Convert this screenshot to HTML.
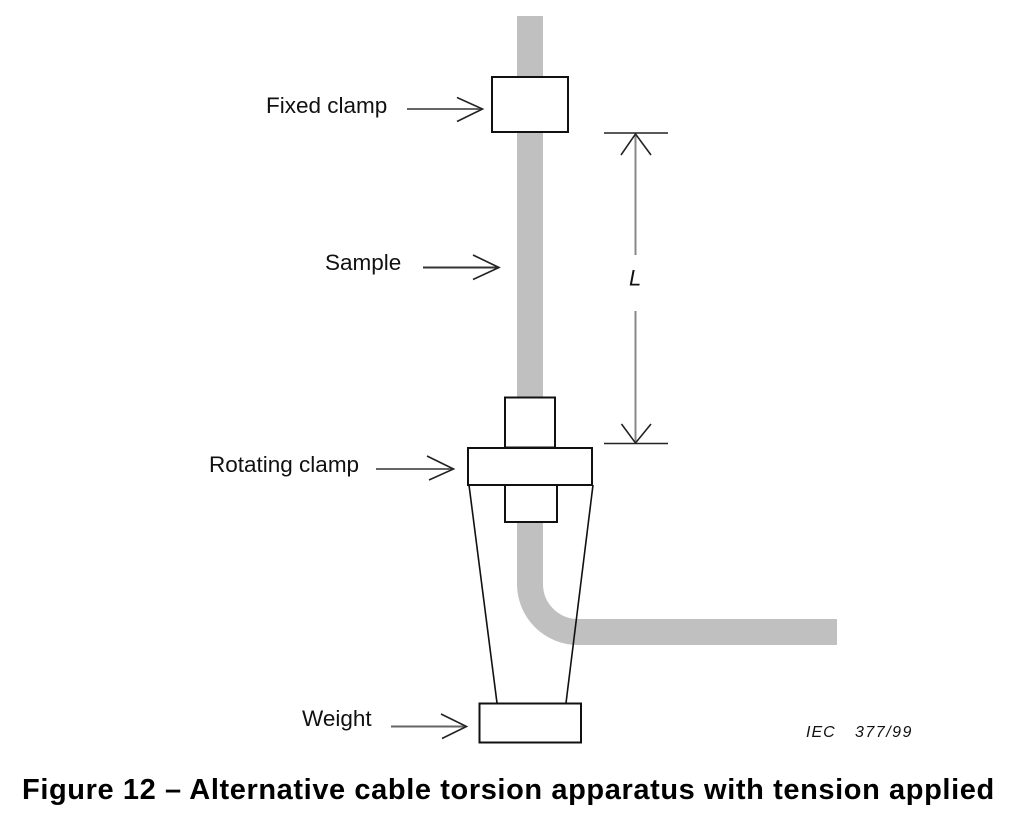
<!DOCTYPE html>
<html>
<head>
<meta charset="utf-8">
<style>
html,body{margin:0;padding:0;background:#fff;}
body{width:1024px;height:828px;overflow:hidden;}
svg{display:block;}
text{font-family:"Liberation Sans",Arial,sans-serif;}
</style>
</head>
<body>
<svg width="1024" height="828" viewBox="0 0 1024 828" xmlns="http://www.w3.org/2000/svg">
  <!-- cable -->
  <path d="M530,16 V584 A48 48 0 0 0 578 632 H837" fill="none" stroke="#c0c0c0" stroke-width="26"/>

  <!-- fixed clamp -->
  <rect x="492" y="77" width="76" height="55" fill="#fff" stroke="#111" stroke-width="2"/>

  <!-- rotating clamp -->
  <rect x="505" y="397.5" width="50" height="50" fill="#fff" stroke="#111" stroke-width="2"/>
  <rect x="505" y="485" width="52" height="37" fill="#fff" stroke="#111" stroke-width="2"/>
  <rect x="468" y="448" width="124" height="37" fill="#fff" stroke="#111" stroke-width="2"/>

  <!-- suspension lines -->
  <line x1="469" y1="485" x2="497" y2="703" stroke="#111" stroke-width="1.6"/>
  <line x1="593" y1="485" x2="566" y2="703" stroke="#111" stroke-width="1.6"/>

  <!-- weight -->
  <rect x="479.5" y="703.5" width="101.5" height="39" fill="#fff" stroke="#111" stroke-width="2"/>

  <!-- dimension L -->
  <line x1="604" y1="133" x2="668" y2="133" stroke="#222" stroke-width="1.6"/>
  <line x1="604" y1="443.5" x2="668" y2="443.5" stroke="#222" stroke-width="1.6"/>
  <line x1="635.5" y1="134" x2="635.5" y2="255" stroke="#888" stroke-width="2"/>
  <line x1="635.5" y1="311" x2="635.5" y2="443" stroke="#888" stroke-width="2"/>
  <polyline points="621,155 635.5,134 651,155" fill="none" stroke="#222" stroke-width="1.6"/>
  <polyline points="621.5,424 635.5,443 651,424" fill="none" stroke="#222" stroke-width="1.6"/>
  <text x="629" y="285.5" font-size="22" font-style="italic" fill="#111">L</text>

  <!-- label arrows -->
  <g stroke-width="2" fill="none">
    <line x1="407" y1="109" x2="482" y2="109" stroke="#666"/>
    <polyline points="457,97.5 482.5,109 457,121.5" stroke="#222" stroke-width="1.6"/>

    <line x1="423" y1="267.5" x2="499" y2="267.5" stroke="#333"/>
    <polyline points="473,255 499,267.5 473,279.5" stroke="#222" stroke-width="1.6"/>

    <line x1="376" y1="469" x2="453" y2="469" stroke="#666"/>
    <polyline points="427,456 453.5,469 429,480" stroke="#222" stroke-width="1.6"/>

    <line x1="391" y1="726.5" x2="466" y2="726.5" stroke="#666"/>
    <polyline points="441,714 466.5,726.5 442,738.5" stroke="#222" stroke-width="1.6"/>
  </g>

  <!-- labels -->
  <g font-size="22.5" fill="#111">
    <text x="266" y="113">Fixed clamp</text>
    <text x="325" y="270">Sample</text>
    <text x="209" y="472">Rotating clamp</text>
    <text x="302" y="726">Weight</text>
  </g>

  <text x="806" y="737" font-size="16" font-style="italic" fill="#111" letter-spacing="1">IEC</text>
  <text x="855" y="737" font-size="16" font-style="italic" fill="#111" letter-spacing="1.5">377/99</text>

  <!-- title -->
  <text x="22" y="799" font-size="29" font-weight="bold" fill="#000" letter-spacing="0.6">Figure 12 – Alternative cable torsion apparatus with tension applied</text>
</svg>
</body>
</html>
